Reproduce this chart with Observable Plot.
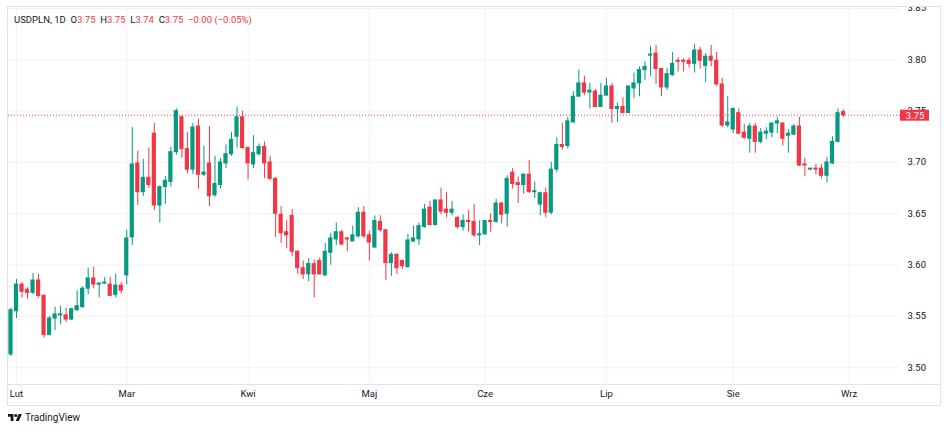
<!DOCTYPE html>
<html><head><meta charset="utf-8">
<script src="https://cdn.jsdelivr.net/npm/d3@7"></script>
<script src="https://cdn.jsdelivr.net/npm/@observablehq/plot@0.6"></script>
<style>
html,body{margin:0;padding:0;background:#fff;}
#wrap{position:relative;width:948px;height:433px;overflow:hidden;font-family:Roboto,"Noto Sans",sans-serif;color:#131722;background:#fff;}
#pane{position:absolute;left:7px;top:6px;width:932px;height:398px;border:1px solid #e0e3eb;}
#chart{position:absolute;left:0;top:0;width:932px;height:398px;}
#legend{position:absolute;left:6px;top:6.5px;font-size:9.5px;line-height:12px;white-space:pre;color:#131722;}
#legend .r{color:#F23645;}
#logo{position:absolute;left:8px;top:410px;height:14px;display:flex;align-items:center;font-size:10px;color:#131722;}
#logo svg{margin-right:3px;}
</style>
</head><body>
<div id="wrap">
  <div id="pane">
    <div id="chart"></div>
    <div id="legend"></div>
  </div>
  <div id="logo"><svg width="14" height="7" viewBox="0 4 36 18"><path fill="#131722" d="M14 22H7V11H0V4h14v18zM28 22h-8l7.5-18h8L28 22z"/><circle fill="#131722" cx="20" cy="8" r="4"/></svg><span>TradingView</span></div>
</div>
<script>
const opens = [3.513,3.555,3.581,3.576,3.573,3.585,3.570,3.532,3.548,3.551,
3.551,3.547,3.556,3.559,3.577,3.587,3.581,3.582,3.581,3.571,
3.580,3.590,3.627,3.699,3.671,3.685,3.728,3.658,3.676,3.681,
3.710,3.744,3.713,3.693,3.735,3.688,3.699,3.668,3.678,3.699,
3.708,3.725,3.744,3.714,3.698,3.708,3.715,3.700,3.684,3.649,
3.632,3.648,3.613,3.597,3.591,3.601,3.604,3.590,3.612,3.625,
3.632,3.626,3.623,3.628,3.651,3.629,3.617,3.642,3.634,3.602,
3.610,3.604,3.598,3.623,3.625,3.637,3.656,3.639,3.663,3.654,
3.651,3.646,3.637,3.643,3.642,3.629,3.630,3.643,3.642,3.660,
3.650,3.690,3.680,3.678,3.688,3.671,3.659,3.670,3.651,3.693,
3.717,3.716,3.739,3.764,3.777,3.768,3.769,3.754,3.765,3.774,
3.752,3.754,3.748,3.772,3.777,3.790,3.804,3.806,3.791,3.773,
3.785,3.799,3.799,3.799,3.796,3.809,3.794,3.803,3.799,3.776,
3.736,3.732,3.748,3.729,3.723,3.735,3.720,3.728,3.729,3.738,
3.738,3.726,3.727,3.735,3.698,3.693,3.694,3.694,3.687,3.699,
3.720,3.749];
const highs = [3.558,3.586,3.583,3.578,3.592,3.591,3.571,3.550,3.559,3.560,
3.558,3.558,3.575,3.579,3.597,3.598,3.583,3.588,3.588,3.591,
3.583,3.634,3.734,3.711,3.703,3.714,3.738,3.677,3.686,3.715,
3.752,3.745,3.729,3.738,3.742,3.716,3.735,3.706,3.704,3.717,
3.729,3.754,3.750,3.715,3.726,3.718,3.720,3.706,3.685,3.657,
3.643,3.654,3.614,3.604,3.606,3.605,3.607,3.621,3.631,3.641,
3.634,3.627,3.638,3.656,3.657,3.633,3.648,3.648,3.634,3.612,
3.611,3.605,3.630,3.638,3.641,3.659,3.662,3.663,3.675,3.671,
3.662,3.647,3.649,3.653,3.659,3.643,3.643,3.650,3.664,3.661,
3.687,3.694,3.686,3.689,3.702,3.681,3.671,3.675,3.700,3.724,
3.738,3.744,3.769,3.790,3.784,3.777,3.771,3.777,3.782,3.777,
3.758,3.763,3.774,3.787,3.793,3.798,3.813,3.814,3.791,3.792,
3.807,3.802,3.801,3.802,3.815,3.812,3.806,3.814,3.807,3.782,
3.764,3.753,3.752,3.737,3.738,3.738,3.733,3.734,3.738,3.744,
3.738,3.732,3.737,3.744,3.704,3.694,3.698,3.698,3.705,3.725,
3.752,3.751];
const lows = [3.511,3.548,3.568,3.567,3.571,3.568,3.529,3.531,3.536,3.542,
3.544,3.546,3.555,3.558,3.571,3.577,3.568,3.581,3.570,3.568,
3.572,3.581,3.619,3.658,3.667,3.675,3.653,3.641,3.659,3.676,
3.707,3.704,3.689,3.688,3.674,3.686,3.657,3.666,3.674,3.694,
3.706,3.714,3.713,3.683,3.694,3.706,3.684,3.682,3.627,3.621,
3.616,3.608,3.591,3.586,3.584,3.568,3.590,3.589,3.600,3.619,
3.619,3.613,3.623,3.626,3.626,3.604,3.617,3.632,3.585,3.589,
3.591,3.596,3.597,3.622,3.619,3.636,3.638,3.638,3.649,3.646,
3.648,3.635,3.633,3.632,3.627,3.619,3.629,3.632,3.641,3.640,
3.637,3.674,3.660,3.669,3.670,3.665,3.648,3.646,3.649,3.690,
3.712,3.713,3.738,3.764,3.765,3.752,3.753,3.754,3.765,3.738,
3.739,3.748,3.748,3.762,3.764,3.780,3.784,3.776,3.764,3.770,
3.784,3.788,3.788,3.792,3.787,3.791,3.778,3.793,3.774,3.734,
3.734,3.728,3.727,3.722,3.709,3.709,3.718,3.722,3.724,3.728,
3.716,3.709,3.726,3.696,3.686,3.692,3.688,3.684,3.680,3.698,
3.719,3.744];
const closes = [3.556,3.581,3.574,3.573,3.585,3.570,3.532,3.548,3.552,3.552,
3.547,3.557,3.560,3.577,3.587,3.581,3.582,3.583,3.570,3.580,
3.575,3.626,3.698,3.671,3.685,3.678,3.658,3.676,3.682,3.710,
3.750,3.713,3.693,3.734,3.688,3.690,3.667,3.679,3.700,3.708,
3.722,3.744,3.714,3.699,3.709,3.715,3.699,3.684,3.650,3.631,
3.629,3.613,3.597,3.591,3.601,3.591,3.591,3.613,3.626,3.632,
3.620,3.625,3.629,3.651,3.628,3.622,3.643,3.634,3.602,3.610,
3.597,3.599,3.624,3.626,3.638,3.654,3.639,3.663,3.652,3.651,
3.654,3.637,3.643,3.642,3.629,3.630,3.643,3.642,3.660,3.649,
3.684,3.679,3.678,3.688,3.671,3.672,3.670,3.651,3.693,3.717,
3.715,3.740,3.764,3.777,3.768,3.770,3.754,3.765,3.774,3.752,
3.754,3.748,3.774,3.777,3.790,3.793,3.805,3.791,3.773,3.786,
3.796,3.798,3.798,3.796,3.809,3.799,3.803,3.799,3.776,3.736,
3.739,3.752,3.728,3.724,3.735,3.720,3.729,3.730,3.738,3.740,
3.723,3.728,3.735,3.697,3.697,3.694,3.693,3.687,3.700,3.720,
3.748,3.746];
const monthLabels = ["Lut","Mar","Kwi","Maj","Cze","Lip","Sie","Wrz"];
const monthStarts = [1,21,43,65,86,108,131,152];
const priceTicks = [3.50,3.55,3.60,3.65,3.70,3.75,3.80,3.85];
const symbol = "USDPLN, 1D";

const GREEN = "#089981", RED = "#F23645", GRID = "#f0f3fa", BORDER = "#e0e3eb";
const candles = closes.map((c, i) => ({i, open: opens[i], high: highs[i], low: lows[i], close: c}));
const color = d => d.close >= d.open ? GREEN : RED;
const lastC = candles[candles.length - 1];
const prevClose = closes[closes.length - 2];
const last = lastC.close;
const xDomain = [-0.45, 161.34];
const yDomain = [3.4837, 3.8509];
const f2 = d3.format(".2f");

const chart = Plot.plot({
  width: 932, height: 398,
  marginLeft: 0, marginRight: 40, marginTop: 0, marginBottom: 21,
  x: {type: "linear", domain: xDomain},
  y: {type: "linear", domain: yDomain},
  style: {fontFamily: "Roboto, 'Noto Sans', sans-serif", fontSize: "9.5px", color: "#131722", background: "white", overflow: "hidden"},
  marks: [
    Plot.gridY(priceTicks, {stroke: GRID, strokeOpacity: 1}),
    Plot.gridX(monthStarts, {stroke: GRID, strokeOpacity: 1}),
    Plot.ruleY([last], {stroke: RED, strokeDasharray: "1,2", strokeWidth: 1}),
    Plot.ruleX(candles, {x: "i", y1: "low", y2: "high", stroke: color, strokeWidth: 1}),
    Plot.rect(candles, {x1: d => d.i - 0.5, x2: d => d.i + 0.5, y1: "open", y2: "close", fill: color,
      insetLeft: 0.65, insetRight: 0.65, insetTop: -0.5, insetBottom: -0.5}),
    Plot.ruleY([yDomain[0]], {stroke: BORDER, insetRight: -40}),
    Plot.axisY(priceTicks, {anchor: "right", tickSize: 0, tickPadding: 7, tickFormat: f2, label: null}),
    Plot.axisX(monthStarts, {anchor: "bottom", tickSize: 0, tickPadding: 6,
      tickFormat: d => monthLabels[monthStarts.indexOf(d)], label: null}),
    Plot.rect([last], {x1: xDomain[1], x2: xDomain[1], y1: d => d, y2: d => d, fill: RED,
      insetLeft: 0, insetRight: -29, insetTop: -5, insetBottom: -6}),
    Plot.text([last], {x: xDomain[1], y: d => d, text: d => f2(d), dx: 14.5, dy: 0.5, fill: "white", textAnchor: "middle"})
  ]
});
document.getElementById("chart").appendChild(chart);

const chg = last - prevClose;
const pct = chg / prevClose * 100;
const signed = v => (v < 0 ? "\u2212" : "+") + f2(Math.abs(v));
const legend = document.getElementById("legend");
legend.innerHTML =
  `${symbol}  O<span class="r">${f2(lastC.open)}</span>  H<span class="r">${f2(lastC.high)}</span>  L<span class="r">${f2(lastC.low)}</span>  C<span class="r">${f2(lastC.close)}</span>  <span class="r">${signed(chg)} (${signed(pct)}%)</span>`;
</script>
</body></html>
